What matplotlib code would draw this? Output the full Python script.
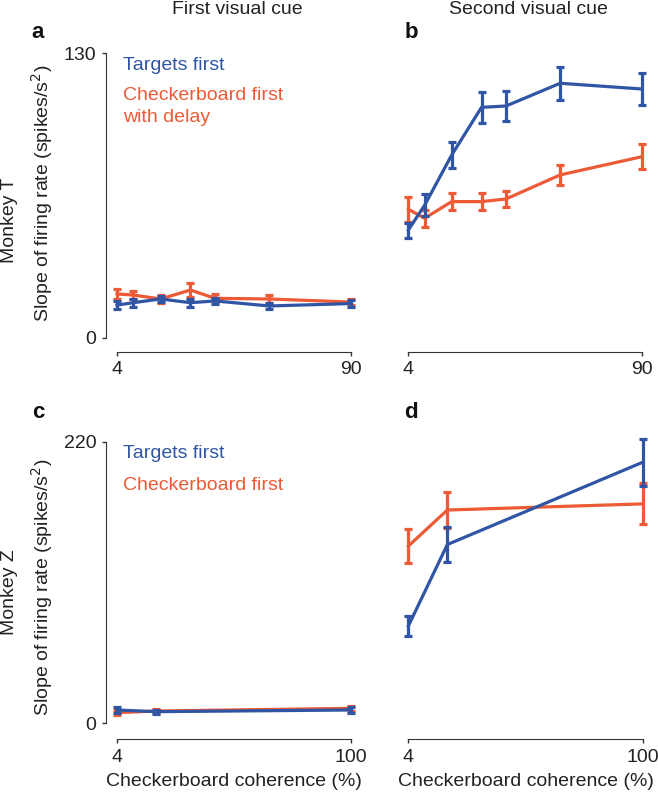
import matplotlib
matplotlib.use("Agg")
import matplotlib.pyplot as plt

plt.rcParams['font.family'] = ['Liberation Sans', 'DejaVu Sans']

BLUE = '#2f55a4'
ORANGE = '#ec5a36'
AXC = '#333333'

# Monkey T (panels a, b)
coh_t = [4, 10, 20, 31, 40, 60, 90]
a_targ = [14.9, 16.0, 17.7, 16.0, 16.8, 14.5, 15.6]
a_targ_err = [1.8, 1.8, 1.5, 1.8, 1.5, 1.5, 1.5]
a_check = [20.0, 19.5, 17.7, 21.8, 18.0, 17.7, 16.3]
a_check_err = [2.2, 2.0, 1.8, 3.2, 1.8, 1.8, 1.5]

b_targ = [49.2, 60.5, 83.5, 105.3, 105.9, 116.3, 113.7]
b_targ_err = [3.4, 5.0, 6.0, 7.0, 7.0, 7.5, 7.5]
b_check = [58.7, 54.6, 62.2, 62.2, 63.4, 74.4, 82.7]
b_check_err = [5.7, 3.8, 3.8, 3.8, 3.8, 4.7, 5.7]

# Monkey Z (panels c, d)
coh_z = [4, 20, 100]
c_targ = [10.4, 9.1, 10.4]
c_targ_err = [2.0, 1.5, 2.0]
c_check = [8.3, 9.6, 11.7]
c_check_err = [2.0, 1.5, 2.0]

d_targ = [76.0, 139.8, 204.1]
d_targ_err = [8.0, 14.0, 18.6]
d_check = [138.6, 166.8, 171.6]
d_check_err = [13.0, 14.3, 16.0]

W, H = 658, 796
fig = plt.figure(figsize=(W / 100, H / 100), dpi=100)


def px_axes(x0, y0, x1, y1):
    # pixel box (left, top, right, bottom) -> figure coords
    return fig.add_axes([x0 / W, 1 - y1 / H, (x1 - x0) / W, (y1 - y0) / H])


def draw(ax, x, yt, et, yc, ec, xmax, ymax, show_y, xoff, yoff):
    kw = dict(lw=2.3, elinewidth=2.3, capsize=3.2, capthick=2.3)
    for y, e, c, z in [(yc, ec, ORANGE, 2), (yt, et, BLUE, 3)]:
        cont = ax.errorbar(x, y, yerr=e, color=c, zorder=z, **kw)
        for art in cont.get_children():
            art.set_clip_on(False)
    ax.set_xlim(4, xmax)
    ax.set_ylim(0, ymax)
    ax.set_xticks([4, xmax])
    ax.set_xticklabels(['4', str(xmax)])
    for s in ['top', 'right']:
        ax.spines[s].set_visible(False)
    ax.spines['bottom'].set_position(('outward', yoff))
    ax.spines['bottom'].set_color(AXC)
    ax.spines['left'].set_color(AXC)
    ax.tick_params(colors=AXC, labelcolor='#222222', labelsize=14,
                   length=3, width=1.0, pad=4)
    if show_y:
        ax.spines['left'].set_position(('outward', xoff))
        ax.set_yticks([0, ymax])
        ax.set_yticklabels(['0', str(ymax)])
    else:
        ax.spines['left'].set_visible(False)
        ax.set_yticks([])
    ax.patch.set_alpha(0)


ax_a = px_axes(117, 53.3, 351, 337.7)
ax_b = px_axes(408.3, 53.3, 641.5, 337.7)
ax_c = px_axes(117, 442, 351, 723.3)
ax_d = px_axes(408.3, 442, 642.5, 723.3)

draw(ax_a, coh_t, a_targ, a_targ_err, a_check, a_check_err, 90, 130, True, 8, 10)
draw(ax_b, coh_t, b_targ, b_targ_err, b_check, b_check_err, 90, 130, False, 8, 10)
draw(ax_c, coh_z, c_targ, c_targ_err, c_check, c_check_err, 100, 220, True, 8, 11.5)
draw(ax_d, coh_z, d_targ, d_targ_err, d_check, d_check_err, 100, 220, False, 8, 11.5)

fs = 14
fig.text(237 / W, 1 - 10 / H, 'First visual cue', ha='center', va='center', fontsize=fs, color='#222222')
fig.text(528 / W, 1 - 10 / H, 'Second visual cue', ha='center', va='center', fontsize=fs, color='#222222')

for lab, x, y in [('a', 38, 32), ('b', 411, 32), ('c', 38, 413), ('d', 411, 413)]:
    fig.text(x / W, 1 - y / H, lab, ha='center', va='center', fontsize=16,
             fontweight='bold', color='#111111')

fig.text(10 / W, 1 - 220 / H, 'Monkey T', rotation=90, ha='center', va='center', fontsize=fs, color='#222222')
fig.text(10 / W, 1 - 592 / H, 'Monkey Z', rotation=90, ha='center', va='center', fontsize=fs, color='#222222')
ylab = 'Slope of firing rate (spikes/s$^2$)'
fig.text(42 / W, 1 - 193 / H, ylab, rotation=90, ha='center', va='center', fontsize=fs, color='#222222')
fig.text(42 / W, 1 - 587 / H, ylab, rotation=90, ha='center', va='center', fontsize=fs, color='#222222')

xlab = 'Checkerboard coherence (%)'
fig.text(234 / W, 1 - 782 / H, xlab, ha='center', va='center', fontsize=fs, color='#222222')
fig.text(526 / W, 1 - 782 / H, xlab, ha='center', va='center', fontsize=fs, color='#222222')

# legends as text
fig.text(123 / W, 1 - 65 / H, 'Targets first', ha='left', va='center', fontsize=fs, color=BLUE)
fig.text(123 / W, 1 - 95 / H, 'Checkerboard first', ha='left', va='center', fontsize=fs, color=ORANGE)
fig.text(123 / W, 1 - 117 / H, 'with delay', ha='left', va='center', fontsize=fs, color=ORANGE)
fig.text(123 / W, 1 - 454 / H, 'Targets first', ha='left', va='center', fontsize=fs, color=BLUE)
fig.text(123 / W, 1 - 486 / H, 'Checkerboard first', ha='left', va='center', fontsize=fs, color=ORANGE)

fig.savefig('out.png', dpi=100)
